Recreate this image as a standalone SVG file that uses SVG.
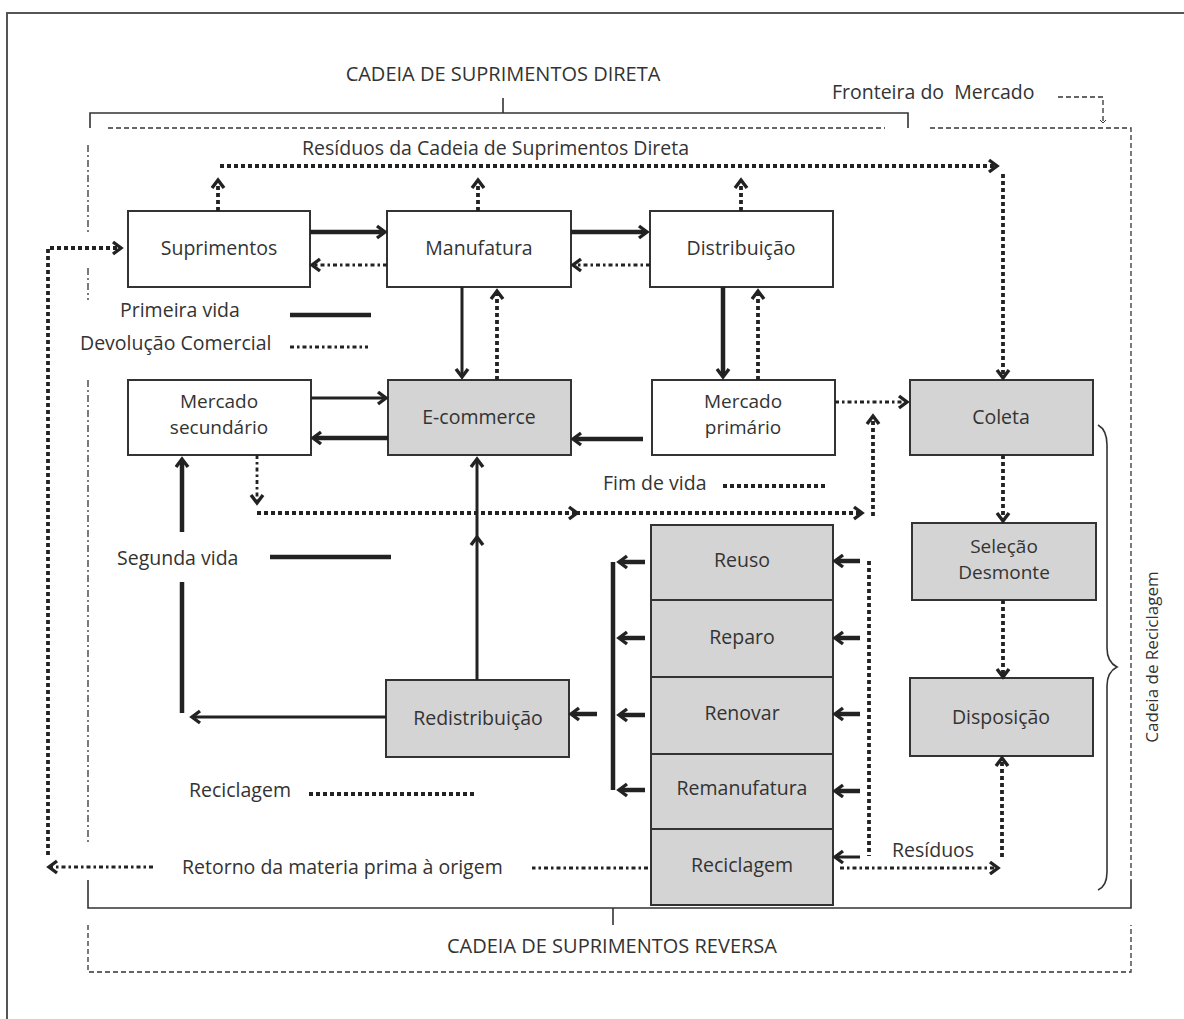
<svg xmlns="http://www.w3.org/2000/svg" width="1184" height="1019" viewBox="0 0 1184 1019">
<style>
text{font-family:"Open Sans","Noto Sans","DejaVu Sans",sans-serif;font-size:19.5px;fill:#333}
.c{text-anchor:middle}
.two{font-size:19px}
.box{stroke:#333;stroke-width:2}
.w{fill:#fff}
.g{fill:#d4d4d4}
.th{stroke:#222;stroke-width:4.5;fill:none}
.md{stroke:#222;stroke-width:3;fill:none}
.hd{stroke:#222;stroke-width:3.8;stroke-dasharray:4 3;fill:none}
.td{stroke:#222;stroke-width:2.8;stroke-dasharray:4 3 2.5 3;fill:none}
.bd{stroke:#333;stroke-width:1.3;stroke-dasharray:5 3;fill:none}
.bdd{stroke:#333;stroke-width:1.3;stroke-dasharray:7 3 2 3;fill:none}
.sl{stroke:#333;stroke-width:1.6;fill:none}
</style>
<defs>
<marker id="a" viewBox="-10 -8 14 16" markerWidth="14" markerHeight="16" markerUnits="userSpaceOnUse" refX="0" refY="0" orient="auto">
<path d="M-7,-6 L1,0 L-7,6" fill="none" stroke="#222" stroke-width="3.4" stroke-dasharray="none"/>
</marker>
<marker id="s" viewBox="-5 -4 7 8" markerWidth="7" markerHeight="8" markerUnits="userSpaceOnUse" refX="0" refY="0" orient="auto">
<path d="M-3,-3 L0,0 L-3,3" fill="none" stroke="#333" stroke-width="1" stroke-dasharray="none"/>
</marker>
</defs>
<rect x="7" y="13" width="1220" height="1030" fill="#fff" stroke="#555" stroke-width="2"/>

<g id="frames">
<text class="c" x="503" y="81" style="font-size:20px">CADEIA DE SUPRIMENTOS DIRETA</text>
<line class="sl" x1="503" y1="98" x2="503" y2="113"/>
<path class="sl" d="M90,128 V113 H908 V128"/>
<text x="832" y="99" style="white-space:pre">Fronteira do  Mercado</text>
<path class="bd" d="M1058,97 H1103 V123" marker-end="url(#s)"/>
<path class="bd" d="M108,128 H885"/>
<path class="bd" d="M930,128 H1131 V880"/>
<path class="bdd" d="M88,145 V232 M88,268 V300 M88,380 V845"/>
<path class="sl" d="M88,880 V908 H1131 V880"/>
<line class="sl" x1="613" y1="908" x2="613" y2="925"/>
<path class="bd" d="M88,925 V972 H1131 V925"/>
<text class="c" x="612" y="953" style="font-size:20px">CADEIA DE SUPRIMENTOS REVERSA</text>
<path class="sl" d="M1098,425 Q1107,430 1107,445 V648 Q1107,662 1117,667 Q1107,672 1107,686 V872 Q1107,886 1098,890"/>
<text class="c" transform="translate(1158,657) rotate(-90)" style="font-size:17px">Cadeia de Reciclagem</text>
</g>

<g id="legend">
<text x="302" y="155">Resíduos da Cadeia de Suprimentos Direta</text>
<text x="120" y="317">Primeira vida</text>
<line class="th" x1="290" y1="315" x2="371" y2="315"/>
<text x="80" y="350">Devolução Comercial</text>
<line class="td" x1="290" y1="347" x2="368" y2="347"/>
<text x="603" y="490">Fim de vida</text>
<line class="hd" x1="723" y1="486" x2="827" y2="486"/>
<text x="117" y="565">Segunda vida</text>
<line class="th" x1="270" y1="557" x2="391" y2="557"/>
<text x="189" y="797">Reciclagem</text>
<line class="hd" x1="309" y1="794" x2="475" y2="794"/>
<text x="892" y="857">Resíduos</text>
<text x="182" y="874">Retorno da materia prima à origem</text>
</g>

<g id="suprimentos"><rect class="box w" x="128" y="211" width="182" height="76"/><text class="c" x="219" y="255">Suprimentos</text></g>
<g id="manufatura"><rect class="box w" x="387" y="211" width="184" height="76"/><text class="c" x="479" y="255">Manufatura</text></g>
<g id="distribuicao"><rect class="box w" x="650" y="211" width="183" height="76"/><text class="c" x="741" y="255">Distribuição</text></g>
<g id="mercado-secundario"><rect class="box w" x="128" y="380" width="183" height="75"/><text class="c two" x="219" y="408">Mercado</text><text class="c two" x="219" y="434">secundário</text></g>
<g id="ecommerce"><rect class="box g" x="388" y="380" width="183" height="75"/><text class="c" x="479" y="424">E-commerce</text></g>
<g id="mercado-primario"><rect class="box w" x="652" y="380" width="183" height="75"/><text class="c two" x="743" y="408">Mercado</text><text class="c two" x="743" y="434">primário</text></g>
<g id="coleta"><rect class="box g" x="910" y="380" width="183" height="75"/><text class="c" x="1001" y="424">Coleta</text></g>
<g id="selecao"><rect class="box g" x="912" y="523" width="184" height="77"/><text class="c two" x="1004" y="553">Seleção</text><text class="c two" x="1004" y="579">Desmonte</text></g>
<g id="disposicao"><rect class="box g" x="910" y="678" width="183" height="78"/><text class="c" x="1001" y="724">Disposição</text></g>
<g id="redistribuicao"><rect class="box g" x="386" y="680" width="183" height="77"/><text class="c" x="478" y="725">Redistribuição</text></g>
<g id="reuso"><rect class="box g" x="651" y="525" width="182" height="75"/><text class="c" x="742" y="567">Reuso</text></g>
<g id="reparo"><rect class="box g" x="651" y="600" width="182" height="77"/><text class="c" x="742" y="644">Reparo</text></g>
<g id="renovar"><rect class="box g" x="651" y="677" width="182" height="77"/><text class="c" x="742" y="720">Renovar</text></g>
<g id="remanufatura"><rect class="box g" x="651" y="754" width="182" height="75"/><text class="c" x="742" y="795">Remanufatura</text></g>
<g id="reciclagem"><rect class="box g" x="651" y="829" width="182" height="76"/><text class="c" x="742" y="872">Reciclagem</text></g>

<g id="connectors">
<line class="th" x1="310" y1="232" x2="384" y2="232" marker-end="url(#a)"/>
<line class="th" x1="571" y1="232" x2="646" y2="232" marker-end="url(#a)"/>
<line class="md" x1="462" y1="287" x2="462" y2="376" marker-end="url(#a)"/>
<line class="th" x1="723" y1="287" x2="723" y2="376" marker-end="url(#a)"/>
<line class="md" x1="311" y1="398" x2="385" y2="398" marker-end="url(#a)"/>
<line class="th" x1="388" y1="438" x2="314" y2="438" marker-end="url(#a)"/>
<line class="th" x1="643" y1="439" x2="574" y2="439" marker-end="url(#a)"/>
<line class="md" x1="386" y1="717" x2="193" y2="717" marker-end="url(#a)"/>
<line class="th" x1="182" y1="713" x2="182" y2="582"/>
<line class="th" x1="182" y1="532" x2="182" y2="460" marker-end="url(#a)"/>
<line class="md" x1="477" y1="680" x2="477" y2="538" marker-end="url(#a)"/>
<line class="md" x1="477" y1="538" x2="477" y2="460" marker-end="url(#a)"/>
<line class="th" x1="613" y1="562" x2="613" y2="790"/>
<line class="th" x1="645" y1="562" x2="620" y2="562" marker-end="url(#a)"/>
<line class="th" x1="645" y1="638" x2="620" y2="638" marker-end="url(#a)"/>
<line class="th" x1="645" y1="715" x2="620" y2="715" marker-end="url(#a)"/>
<line class="th" x1="645" y1="790" x2="620" y2="790" marker-end="url(#a)"/>
<line class="th" x1="597" y1="714" x2="572" y2="714" marker-end="url(#a)"/>
<line class="th" x1="860" y1="561" x2="836" y2="561" marker-end="url(#a)"/>
<line class="th" x1="860" y1="638" x2="836" y2="638" marker-end="url(#a)"/>
<line class="th" x1="860" y1="714" x2="836" y2="714" marker-end="url(#a)"/>
<line class="th" x1="860" y1="791" x2="836" y2="791" marker-end="url(#a)"/>
<line class="md" x1="860" y1="857" x2="836" y2="857" marker-end="url(#a)"/>

<line class="hd" x1="220" y1="166" x2="996" y2="166" marker-end="url(#a)"/>
<line class="hd" x1="1003" y1="174" x2="1003" y2="377" marker-end="url(#a)"/>
<line class="hd" x1="218" y1="211" x2="218" y2="181" marker-end="url(#a)"/>
<line class="hd" x1="478" y1="211" x2="478" y2="181" marker-end="url(#a)"/>
<line class="hd" x1="741" y1="211" x2="741" y2="181" marker-end="url(#a)"/>
<line class="td" x1="650" y1="265" x2="574" y2="265" marker-end="url(#a)"/>
<line class="td" x1="387" y1="265" x2="313" y2="265" marker-end="url(#a)"/>
<line class="hd" x1="497" y1="380" x2="497" y2="292" marker-end="url(#a)"/>
<line class="hd" x1="758" y1="380" x2="758" y2="292" marker-end="url(#a)"/>
<line class="td" x1="835" y1="402" x2="906" y2="402" marker-end="url(#a)"/>
<line class="td" x1="257" y1="455" x2="257" y2="502" marker-end="url(#a)"/>
<line class="hd" x1="257" y1="513" x2="576" y2="513" marker-end="url(#a)"/>
<line class="hd" x1="576" y1="513" x2="861" y2="513" marker-end="url(#a)"/>
<line class="hd" x1="873" y1="516" x2="873" y2="417" marker-end="url(#a)"/>
<line class="hd" x1="1003" y1="455" x2="1003" y2="520" marker-end="url(#a)"/>
<line class="hd" x1="1003" y1="600" x2="1003" y2="676" marker-end="url(#a)"/>
<line class="hd" x1="869" y1="561" x2="869" y2="856"/>
<line class="td" x1="840" y1="868" x2="997" y2="868" marker-end="url(#a)"/>
<line class="hd" x1="1002" y1="857" x2="1002" y2="759" marker-end="url(#a)"/>
<line class="td" x1="648" y1="868" x2="532" y2="868"/>
<line class="td" x1="153" y1="867" x2="50" y2="867" marker-end="url(#a)"/>
<path class="hd" d="M48,855 V248 H120" marker-end="url(#a)"/>
</g>
</svg>
